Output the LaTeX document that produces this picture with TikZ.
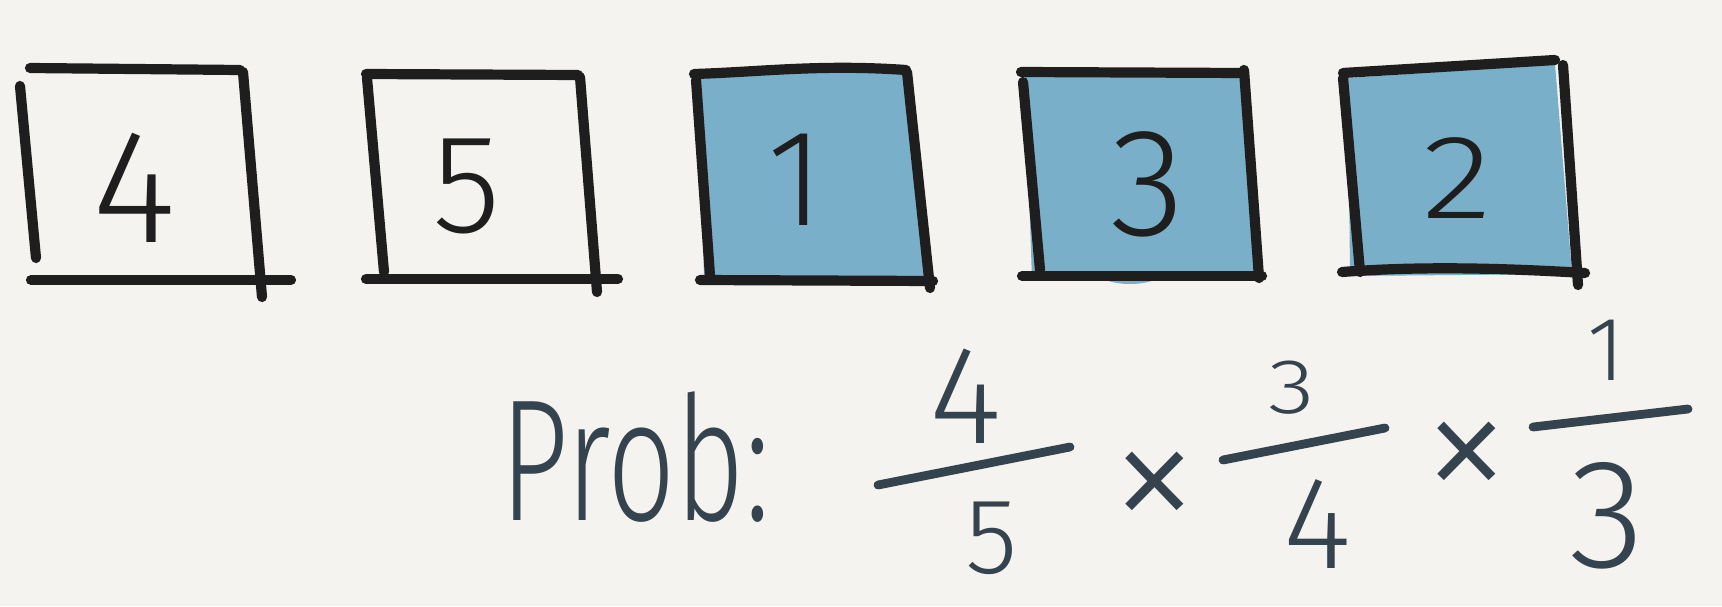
\documentclass[tikz,border=0pt]{standalone}
\usepackage{fontspec}
\newfontfamily\handfont{Fira Sans Light}
\definecolor{paper}{HTML}{F5F3F0}
\definecolor{ink}{HTML}{1E1E1E}
\definecolor{boxblue}{HTML}{79AFC8}
\definecolor{pen}{HTML}{34434E}
\tikzset{
	edge/.style={line width=2.9pt, line cap=round, ink},
	digit/.style={font=\handfont\fontsize{46}{46}\selectfont, text=ink, inner sep=0pt},
	penline/.style={line width=2.5pt, line cap=round, pen},
	pentext/.style={font=\handfont\fontsize{34}{34}\selectfont, text=pen, inner sep=0pt}
}
\begin{document}
\begin{tikzpicture}[x=0.01cm, y=-0.01cm]
		\useasboundingbox[fill=paper] (0, 0) rectangle (1722, 606);

		% blue fillings
		\fill[boxblue] (700, 76) -- (906, 70) -- (930, 284) -- (704, 282) -- cycle;
		\fill[boxblue] (1025, 76) -- (1244, 72) -- (1258, 278) -- (1032, 280) -- cycle;
		\fill[boxblue] (1130, 270) ellipse (35 and 14);
		\fill[boxblue] (1348, 78) -- (1555, 64) -- (1572, 274) -- (1350, 276) -- cycle;

		% box 1
		\draw[edge] (30, 68) -- (240, 70);
		\draw[edge] (20, 86) -- (36, 258);
		\draw[edge] (243, 72) -- (262, 297);
		\draw[edge] (31, 280) -- (291, 280);

		% box 2
		\draw[edge] (366, 74) -- (578, 75);
		\draw[edge] (367, 78) -- (384, 272);
		\draw[edge] (580, 77) -- (597, 292);
		\draw[edge] (366, 279) -- (618, 279);

		% box 3
		\draw[edge] (694, 74) .. controls (760, 72) and (820, 64) .. (906, 70);
		\draw[edge] (696, 80) -- (710, 276);
		\draw[edge] (907, 72) -- (930, 288);
		\draw[edge] (700, 280) -- (933, 281);

		% box 4
		\draw[edge] (1021, 72) -- (1244, 73);
		\draw[edge] (1023, 82) -- (1040, 270);
		\draw[edge] (1244, 70) -- (1259, 278);
		\draw[edge] (1022, 276) -- (1262, 276);

		% box 5
		\draw[edge] (1343, 73) -- (1555, 60);
		\draw[edge] (1343, 78) -- (1360, 272);
		\draw[edge] (1563, 65) -- (1578, 285);
		\draw[edge] (1342, 272) .. controls (1420, 266) and (1500, 268) .. (1585, 273);

		\node[digit] (d4) at (134, 188) {4};
		\node[digit, scale=0.87] (d5) at (467, 186) {5};
		\node[digit, scale=0.85] (d1) at (796, 180) {1};
		\node[digit, scale=0.95] (d3) at (1148, 184) {3};
		\node[digit, xscale=0.9, yscale=0.74] (d2) at (1457, 178) {2};

		% probability
		\node[pentext, yscale=1.45, anchor=base west] (prob) at (500, 520) {Prob:};

		\node[pentext, scale=1.17] (n4) at (966, 396) {4};
		\draw[penline] (878, 485) -- (1070, 447);
		\node[pentext, scale=0.9] (dn5) at (992, 538) {5};

		\node[pentext, scale=1.5] (times1) at (1155, 494) {×};

		\node[pentext, xscale=0.8, yscale=0.65] (n3) at (1292, 388) {3};
		\draw[penline] (1223, 460) -- (1385, 428);
		\node[pentext, scale=1.1] (dn4) at (1318, 524) {4};

		\node[pentext, scale=1.5] (times2) at (1467, 464) {×};

		\node[pentext, scale=0.76] (n1) at (1606, 350) {1};
		\draw[penline] (1533, 427) -- (1688, 409);
		\node[pentext, scale=1.3] (dn3) at (1607, 516) {3};
	\end{tikzpicture}
\end{document}
